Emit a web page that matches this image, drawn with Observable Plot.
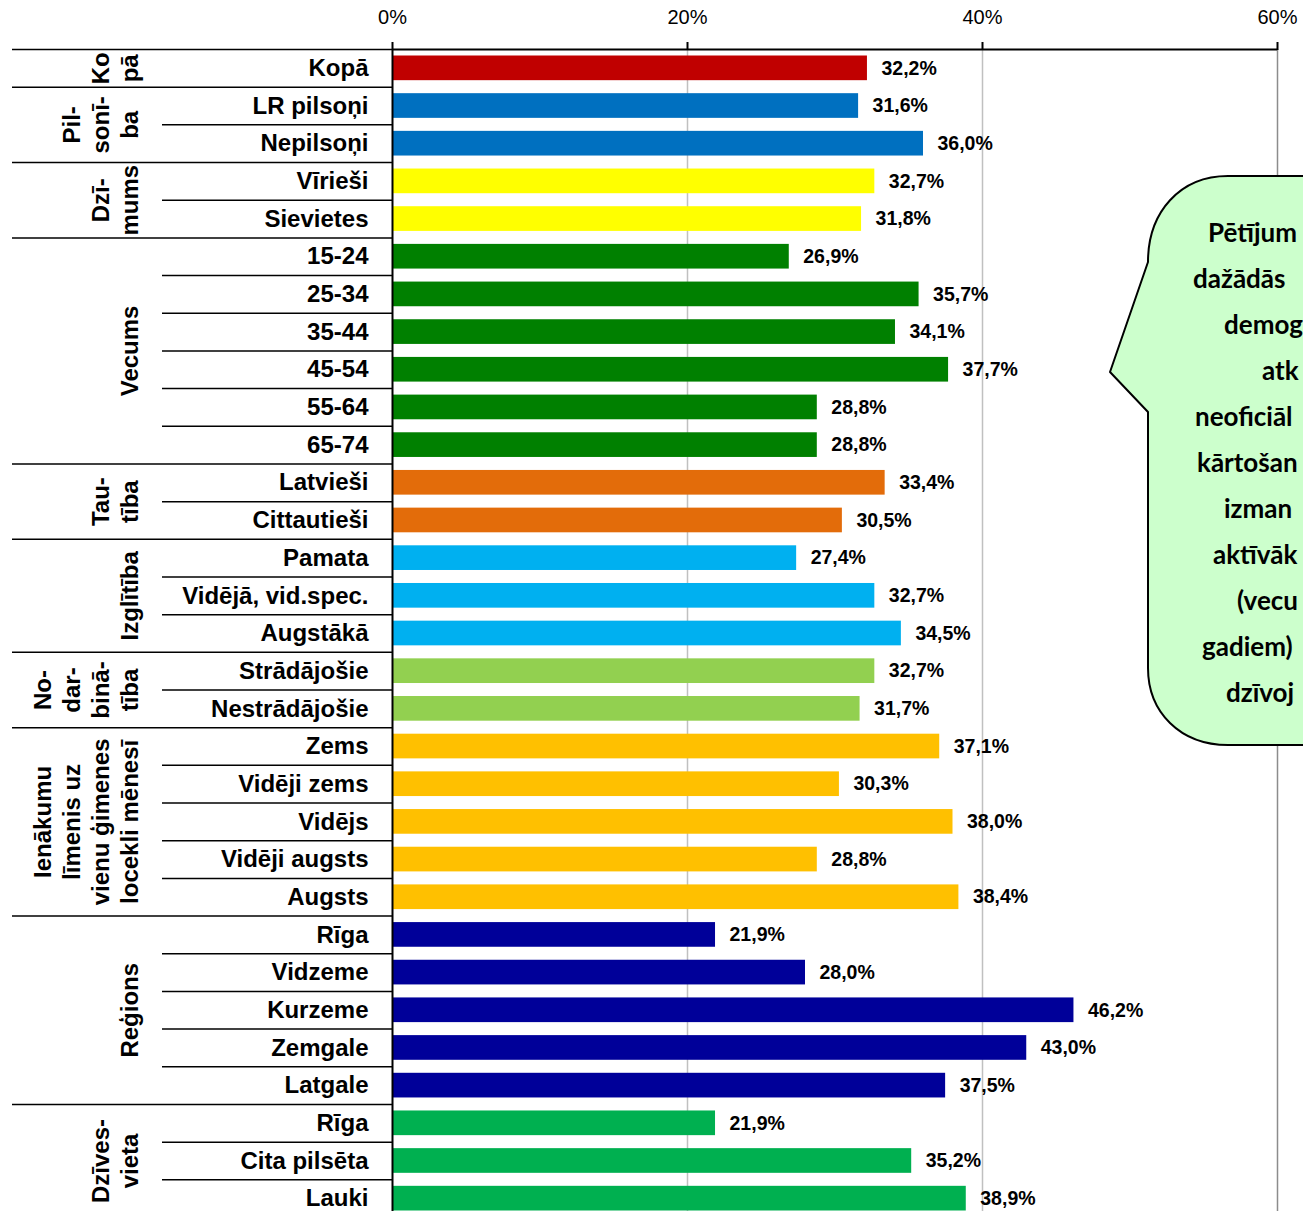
<!DOCTYPE html>
<html><head><meta charset="utf-8">
<script src="https://cdn.jsdelivr.net/npm/d3@7"></script>
<script src="https://cdn.jsdelivr.net/npm/@observablehq/plot@0.6"></script>
<style>
html,body{margin:0;padding:0;overflow:hidden;background:#fff;}
#wrap{position:relative;width:1303px;height:1211px;overflow:hidden;}
#wrap svg{display:block;}
#callout{position:absolute;left:0;top:0;}
</style></head><body><div id="wrap"></div>
<script>
// ---- data ----
const groupLabels = ["Ko\npā","Pil-\nsonī-\nba","Dzī-\nmums","Vecums","Tau-\ntība","Izglītība","No-\ndar-\nbinā-\ntība","Ienākumu\nlīmenis uz\nvienu ģimenes\nlocekli mēnesī","Reģions","Dzīves-\nvieta"];
const groupColors = ["#C00000","#0070C0","#FFFF00","#008000","#E36C0A","#00B0F0","#92D050","#FFC000","#000099","#00B050"];
const categories = ["Kopā","LR pilsoņi","Nepilsoņi","Vīrieši","Sievietes","15-24","25-34","35-44","45-54","55-64","65-74","Latvieši","Cittautieši","Pamata","Vidējā, vid.spec.","Augstākā","Strādājošie","Nestrādājošie","Zems","Vidēji zems","Vidējs","Vidēji augsts","Augsts","Rīga","Vidzeme","Kurzeme","Zemgale","Latgale","Rīga","Cita pilsēta","Lauki"];
const categoryGroup = [0,1,1,2,2,3,3,3,3,3,3,4,4,5,5,5,6,6,7,7,7,7,7,8,8,8,8,8,9,9,9];
const values = [32.2,31.6,36.0,32.7,31.8,26.9,35.7,34.1,37.7,28.8,28.8,33.4,30.5,27.4,32.7,34.5,32.7,31.7,37.1,30.3,38.0,28.8,38.4,21.9,28.0,46.2,43.0,37.5,21.9,35.2,38.9];
const xTicks = [0,20,40,60];
const calloutLines = ["Pētījum","dažādās","demog","atk","neoficiāl","kārtošan","izman","aktīvāk","(vecu","gadiem)","dzīvoj"];

// ---- derived ----
const fmt = v => v.toFixed(1).replace(".", ",") + "%";
const rows = categories.map((c, i) => ({i, cat: c, value: values[i], color: groupColors[categoryGroup[i]]}));
const groups = groupLabels.map((label, g) => {
  const idx = categoryGroup.map((k, i) => k === g ? i : -1).filter(i => i >= 0);
  return {label, start: idx[0], end: idx[idx.length - 1] + 1, mid: (idx[0] + idx[idx.length - 1] + 1) / 2};
});
const groupStarts = groups.map(g => g.start);
const innerBounds = categoryGroup.map((k, i) => (i > 0 && k === categoryGroup[i - 1]) ? i : -1).filter(i => i > 0);

const FONT = "'Liberation Sans', Arial, Helvetica, sans-serif";

const chart = Plot.plot({
  width: 1303, height: 1211,
  marginLeft: 392, marginRight: 26, marginTop: 49, marginBottom: 0,
  x: {domain: [0, 60], axis: null},
  y: {domain: [0, 31], range: [49, 1217], axis: null},
  style: {fontFamily: FONT, background: "white", color: "black"},
  marks: [
    Plot.ruleX([20, 40], {stroke: "#C0C0C0", strokeWidth: 1.5}),
    Plot.ruleX([60], {stroke: "#8C8C8C", strokeWidth: 1.5}),
    Plot.rect(rows, {x1: () => 0, x2: "value", y1: "i", y2: d => d.i + 1, insetTop: 6.5, insetBottom: 6.5, fill: "color"}),
    Plot.text(rows, {x: "value", y: d => d.i + 0.5, text: d => fmt(d.value), dx: 14, textAnchor: "start", fontWeight: "bold", fontSize: 19.5, fill: "black"}),
    Plot.axisY(innerBounds, {anchor: "left", tickSize: 230, tickFormat: () => "", strokeWidth: 1.5, label: null}),
    Plot.axisY(groupStarts, {anchor: "left", tickSize: 380, tickFormat: () => "", strokeWidth: 1.5, label: null}),
    Plot.text(rows, {y: d => d.i + 0.5, text: "cat", frameAnchor: "left", dx: -24, textAnchor: "end", fontSize: 24, fontWeight: "bold", fill: "black"}),
    Plot.text(groups, {y: "mid", text: "label", frameAnchor: "left", dx: -255, rotate: -90, textAnchor: "middle", lineAnchor: "bottom", lineHeight: 1.2, fontSize: 24, fontWeight: "bold", fill: "black"}),
    Plot.axisX(xTicks, {anchor: "top", tickSize: 8, tickPadding: 18, tickFormat: d => d + "%", fontSize: 20, strokeWidth: 2, label: null}),
    Plot.ruleY([0], {strokeWidth: 2}),
    Plot.ruleX([0], {strokeWidth: 2})
  ]
});
document.getElementById("wrap").appendChild(chart);

// ---- callout annotation ----
const svg = d3.select("#wrap").append("svg").attr("id", "callout").attr("width", 1303).attr("height", 1211);
svg.append("path")
  .attr("d", "M1148,262 C1148,212 1180,176 1228,176 L1420,176 L1420,745 L1228,745 C1180,745 1148,712 1148,668 L1148,412 L1110,372 Z")
  .attr("fill", "#CCFFCC").attr("stroke", "black").attr("stroke-width", 2).attr("stroke-linejoin", "round");
const starts = [1208,1193,1224,1262,1195,1197,1224,1213,1237,1202,1226];
svg.selectAll("text.c").data(calloutLines).join("text")
  .attr("class", "c")
  .attr("x", (d, i) => starts[i])
  .attr("y", (d, i) => 242 + i * 46)
  .attr("font-family", "Lato, 'Open Sans', sans-serif")
  .attr("font-weight", "bold").attr("font-size", 26).attr("fill", "black")
  .text(d => d);
</script></body></html>
